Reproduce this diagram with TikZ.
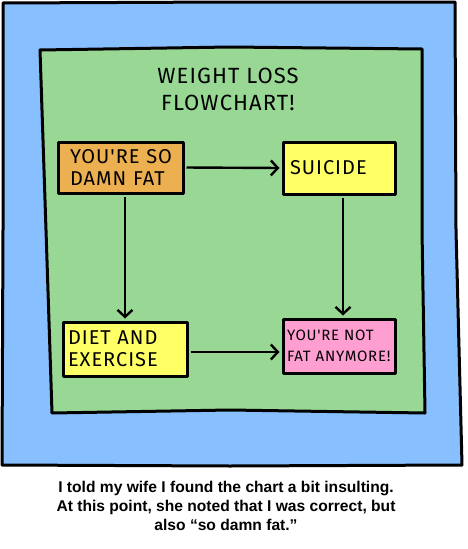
\documentclass[tikz,border=0pt]{standalone}
\usepackage{fontspec}
\setmainfont{Liberation Sans}
\newfontfamily\handfont[LetterSpace=5]{Fira Sans}
\usetikzlibrary{arrows.meta}
\definecolor{skyblue}{RGB}{136,192,255}
\definecolor{chartgreen}{RGB}{152,216,148}
\definecolor{boxorange}{RGB}{236,176,80}
\definecolor{boxyellow}{RGB}{255,255,102}
\definecolor{boxpink}{RGB}{255,158,208}
\tikzset{
  ink/.style={draw=black, line width=3pt, line join=round},
  flowbox/.style={ink, inner sep=0pt, font=\handfont\fontsize{20}{22}\selectfont, align=left},
  arr/.style={line width=2.4pt, -{Straight Barb[length=7pt,width=15pt,line width=2.4pt]}, shorten <=2pt, shorten >=2pt},
  caption/.style={font=\bfseries\fontsize{15.6}{19}\selectfont, align=center}
}
\begin{document}
\begin{tikzpicture}[x=1pt,y=-1pt]
\useasboundingbox (0,0) rectangle (468,549);
\fill[white] (0,0) rectangle (468,549);
% outer blue panel
\filldraw[ink, fill=skyblue] (3,3) -- (230,2) -- (455,2) -- (456,230) -- (462,465) -- (230,466) -- (2,465) -- (3,230) -- cycle;
% green chart
\filldraw[ink, fill=chartgreen] (40,50) -- (230,47) -- (422,49) -- (422,230) -- (425,413) -- (230,410) -- (52,413) -- (46,230) -- cycle;
% title
\node[font=\handfont\fontsize{22}{27}\selectfont, align=center] (title) at (228,89) {WEIGHT LOSS\\FLOWCHART!};
% boxes
\node[flowbox, fill=boxorange, minimum width=125pt, minimum height=51pt, text width=101pt] (fat) at (120.5,167.5) {\mbox{YOU'RE SO}\\\mbox{DAMN FAT}};
\node[flowbox, fill=boxyellow, minimum width=112pt, minimum height=52pt, text width=98pt] (suicide) at (339,168) {\mbox{SUICIDE}};
\node[flowbox, fill=boxyellow, minimum width=124pt, minimum height=54pt, text width=114pt] (diet) at (125,349) {\mbox{DIET AND}\\\mbox{EXERCISE}};
\node[flowbox, fill=boxpink, minimum width=112pt, minimum height=54pt, text width=104pt, font=\handfont\fontsize{15}{21}\selectfont] (notfat) at (339,346) {\mbox{YOU'RE NOT}\\\mbox{FAT ANYMORE!}};
% connectors
\draw[arr] (fat.east) -- (suicide.west);
\draw[arr] (fat.south -| diet.north) -- (diet.north);
\draw[arr] ([xshift=4pt]suicide.south) -- ([xshift=4pt]notfat.north);
\draw[arr] ([yshift=-3pt]diet.east) -- ([yshift=-6pt]notfat.west);
% caption
\node[caption] (cap) at (226,506) {I told my wife I found the chart a bit insulting.\\At this point, she noted that I was correct, but\\also “so damn fat.”};
\end{tikzpicture}
\end{document}
